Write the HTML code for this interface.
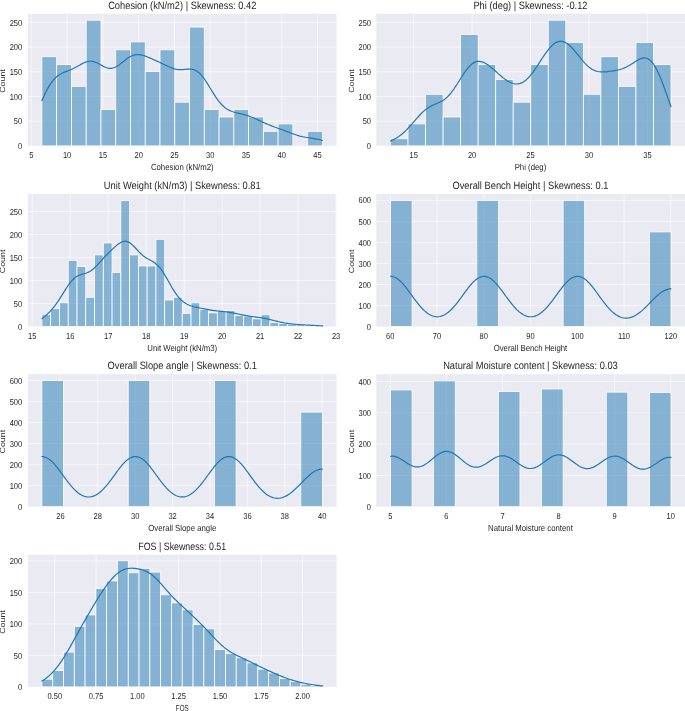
<!DOCTYPE html>
<html><head><meta charset="utf-8"><title>Histograms</title>
<style>html,body{margin:0;padding:0;background:#fff;}body{width:685px;height:711px;overflow:hidden;}svg{display:block;font-family:"Liberation Sans",sans-serif;}text{text-rendering:geometricPrecision;}</style></head><body>
<svg width="685" height="711" viewBox="0 0 685 711">
<defs><filter id="soft" x="-2%" y="-2%" width="104%" height="104%" color-interpolation-filters="sRGB"><feGaussianBlur stdDeviation="0.35"/></filter></defs>
<rect width="685" height="711" fill="#fff"/>
<g filter="url(#soft)">
<g><rect x="28.00" y="13.80" width="308.50" height="132.10" fill="#eaeaf2"/><line x1="31.32" y1="13.80" x2="31.32" y2="145.90" stroke="#fff" stroke-width="0.7" stroke-opacity="0.85"/><line x1="67.10" y1="13.80" x2="67.10" y2="145.90" stroke="#fff" stroke-width="0.7" stroke-opacity="0.85"/><line x1="102.88" y1="13.80" x2="102.88" y2="145.90" stroke="#fff" stroke-width="0.7" stroke-opacity="0.85"/><line x1="138.66" y1="13.80" x2="138.66" y2="145.90" stroke="#fff" stroke-width="0.7" stroke-opacity="0.85"/><line x1="174.44" y1="13.80" x2="174.44" y2="145.90" stroke="#fff" stroke-width="0.7" stroke-opacity="0.85"/><line x1="210.21" y1="13.80" x2="210.21" y2="145.90" stroke="#fff" stroke-width="0.7" stroke-opacity="0.85"/><line x1="245.99" y1="13.80" x2="245.99" y2="145.90" stroke="#fff" stroke-width="0.7" stroke-opacity="0.85"/><line x1="281.77" y1="13.80" x2="281.77" y2="145.90" stroke="#fff" stroke-width="0.7" stroke-opacity="0.85"/><line x1="317.55" y1="13.80" x2="317.55" y2="145.90" stroke="#fff" stroke-width="0.7" stroke-opacity="0.85"/><line x1="28.00" y1="121.20" x2="336.50" y2="121.20" stroke="#fff" stroke-width="0.7" stroke-opacity="0.85"/><line x1="28.00" y1="96.50" x2="336.50" y2="96.50" stroke="#fff" stroke-width="0.7" stroke-opacity="0.85"/><line x1="28.00" y1="71.80" x2="336.50" y2="71.80" stroke="#fff" stroke-width="0.7" stroke-opacity="0.85"/><line x1="28.00" y1="47.10" x2="336.50" y2="47.10" stroke="#fff" stroke-width="0.7" stroke-opacity="0.85"/><line x1="28.00" y1="22.40" x2="336.50" y2="22.40" stroke="#fff" stroke-width="0.7" stroke-opacity="0.85"/><rect x="41.90" y="56.73" width="14.76" height="89.17" fill="#1f77b4" fill-opacity="0.5" stroke="#fff" stroke-width="0.8"/><rect x="56.66" y="64.64" width="14.76" height="81.26" fill="#1f77b4" fill-opacity="0.5" stroke="#fff" stroke-width="0.8"/><rect x="71.43" y="86.37" width="14.76" height="59.53" fill="#1f77b4" fill-opacity="0.5" stroke="#fff" stroke-width="0.8"/><rect x="86.19" y="20.18" width="14.76" height="125.72" fill="#1f77b4" fill-opacity="0.5" stroke="#fff" stroke-width="0.8"/><rect x="100.95" y="109.59" width="14.76" height="36.31" fill="#1f77b4" fill-opacity="0.5" stroke="#fff" stroke-width="0.8"/><rect x="115.72" y="49.82" width="14.76" height="96.08" fill="#1f77b4" fill-opacity="0.5" stroke="#fff" stroke-width="0.8"/><rect x="130.48" y="41.91" width="14.76" height="103.99" fill="#1f77b4" fill-opacity="0.5" stroke="#fff" stroke-width="0.8"/><rect x="145.24" y="71.55" width="14.76" height="74.35" fill="#1f77b4" fill-opacity="0.5" stroke="#fff" stroke-width="0.8"/><rect x="160.01" y="49.82" width="14.76" height="96.08" fill="#1f77b4" fill-opacity="0.5" stroke="#fff" stroke-width="0.8"/><rect x="174.77" y="102.18" width="14.76" height="43.72" fill="#1f77b4" fill-opacity="0.5" stroke="#fff" stroke-width="0.8"/><rect x="189.53" y="27.09" width="14.76" height="118.81" fill="#1f77b4" fill-opacity="0.5" stroke="#fff" stroke-width="0.8"/><rect x="204.29" y="109.59" width="14.76" height="36.31" fill="#1f77b4" fill-opacity="0.5" stroke="#fff" stroke-width="0.8"/><rect x="219.06" y="117.00" width="14.76" height="28.90" fill="#1f77b4" fill-opacity="0.5" stroke="#fff" stroke-width="0.8"/><rect x="233.82" y="109.59" width="14.76" height="36.31" fill="#1f77b4" fill-opacity="0.5" stroke="#fff" stroke-width="0.8"/><rect x="248.58" y="117.00" width="14.76" height="28.90" fill="#1f77b4" fill-opacity="0.5" stroke="#fff" stroke-width="0.8"/><rect x="263.35" y="131.33" width="14.76" height="14.57" fill="#1f77b4" fill-opacity="0.5" stroke="#fff" stroke-width="0.8"/><rect x="278.11" y="123.92" width="14.76" height="21.98" fill="#1f77b4" fill-opacity="0.5" stroke="#fff" stroke-width="0.8"/><rect x="307.64" y="131.33" width="14.76" height="14.57" fill="#1f77b4" fill-opacity="0.5" stroke="#fff" stroke-width="0.8"/><path d="M41.90,100.59 L43.31,97.45 L44.72,94.43 L46.13,91.56 L47.54,88.88 L48.95,86.39 L50.36,84.12 L51.77,82.07 L53.18,80.25 L54.59,78.66 L56.00,77.27 L57.41,76.07 L58.81,75.05 L60.22,74.17 L61.63,73.42 L63.04,72.76 L64.45,72.17 L65.86,71.62 L67.27,71.08 L68.68,70.54 L70.09,69.97 L71.50,69.37 L72.91,68.72 L74.32,68.03 L75.73,67.29 L77.14,66.51 L78.55,65.71 L79.96,64.91 L81.37,64.13 L82.78,63.40 L84.19,62.73 L85.60,62.16 L87.01,61.70 L88.42,61.39 L89.82,61.23 L91.23,61.24 L92.64,61.41 L94.05,61.74 L95.46,62.22 L96.87,62.82 L98.28,63.52 L99.69,64.29 L101.10,65.08 L102.51,65.86 L103.92,66.60 L105.33,67.24 L106.74,67.77 L108.15,68.14 L109.56,68.34 L110.97,68.35 L112.38,68.17 L113.79,67.79 L115.20,67.23 L116.61,66.50 L118.02,65.63 L119.43,64.64 L120.83,63.56 L122.24,62.43 L123.65,61.29 L125.06,60.16 L126.47,59.08 L127.88,58.08 L129.29,57.18 L130.70,56.40 L132.11,55.75 L133.52,55.24 L134.93,54.88 L136.34,54.67 L137.75,54.60 L139.16,54.65 L140.57,54.83 L141.98,55.11 L143.39,55.49 L144.80,55.93 L146.21,56.44 L147.62,56.99 L149.03,57.58 L150.44,58.19 L151.84,58.81 L153.25,59.44 L154.66,60.08 L156.07,60.73 L157.48,61.38 L158.89,62.03 L160.30,62.70 L161.71,63.37 L163.12,64.04 L164.53,64.72 L165.94,65.40 L167.35,66.06 L168.76,66.70 L170.17,67.31 L171.58,67.87 L172.99,68.37 L174.40,68.81 L175.81,69.15 L177.22,69.41 L178.63,69.58 L180.04,69.66 L181.45,69.66 L182.85,69.59 L184.26,69.47 L185.67,69.32 L187.08,69.18 L188.49,69.09 L189.90,69.06 L191.31,69.15 L192.72,69.37 L194.13,69.77 L195.54,70.36 L196.95,71.16 L198.36,72.19 L199.77,73.44 L201.18,74.91 L202.59,76.60 L204.00,78.47 L205.41,80.50 L206.82,82.66 L208.23,84.91 L209.64,87.22 L211.05,89.55 L212.46,91.87 L213.86,94.13 L215.27,96.31 L216.68,98.38 L218.09,100.32 L219.50,102.12 L220.91,103.76 L222.32,105.24 L223.73,106.56 L225.14,107.72 L226.55,108.73 L227.96,109.61 L229.37,110.35 L230.78,110.99 L232.19,111.54 L233.60,112.00 L235.01,112.41 L236.42,112.78 L237.83,113.11 L239.24,113.44 L240.65,113.76 L242.06,114.10 L243.47,114.45 L244.87,114.83 L246.28,115.24 L247.69,115.69 L249.10,116.17 L250.51,116.69 L251.92,117.24 L253.33,117.82 L254.74,118.43 L256.15,119.07 L257.56,119.71 L258.97,120.37 L260.38,121.03 L261.79,121.69 L263.20,122.34 L264.61,122.98 L266.02,123.60 L267.43,124.21 L268.84,124.80 L270.25,125.36 L271.66,125.92 L273.07,126.45 L274.48,126.97 L275.88,127.49 L277.29,128.00 L278.70,128.51 L280.11,129.02 L281.52,129.53 L282.93,130.06 L284.34,130.58 L285.75,131.12 L287.16,131.66 L288.57,132.21 L289.98,132.75 L291.39,133.28 L292.80,133.80 L294.21,134.31 L295.62,134.79 L297.03,135.24 L298.44,135.66 L299.85,136.05 L301.26,136.40 L302.67,136.72 L304.08,137.01 L305.49,137.27 L306.89,137.51 L308.30,137.73 L309.71,137.95 L311.12,138.16 L312.53,138.37 L313.94,138.59 L315.35,138.83 L316.76,139.08 L318.17,139.36 L319.58,139.66 L320.99,139.98 L322.40,140.32" fill="none" stroke="#1f77b4" stroke-width="1.2" stroke-linejoin="round" stroke-linecap="round"/><text transform="translate(31.32,158.30) scale(0.875,1)" font-size="8.6" text-anchor="middle" fill="#262626">5</text><text transform="translate(67.10,158.30) scale(0.875,1)" font-size="8.6" text-anchor="middle" fill="#262626">10</text><text transform="translate(102.88,158.30) scale(0.875,1)" font-size="8.6" text-anchor="middle" fill="#262626">15</text><text transform="translate(138.66,158.30) scale(0.875,1)" font-size="8.6" text-anchor="middle" fill="#262626">20</text><text transform="translate(174.44,158.30) scale(0.875,1)" font-size="8.6" text-anchor="middle" fill="#262626">25</text><text transform="translate(210.21,158.30) scale(0.875,1)" font-size="8.6" text-anchor="middle" fill="#262626">30</text><text transform="translate(245.99,158.30) scale(0.875,1)" font-size="8.6" text-anchor="middle" fill="#262626">35</text><text transform="translate(281.77,158.30) scale(0.875,1)" font-size="8.6" text-anchor="middle" fill="#262626">40</text><text transform="translate(317.55,158.30) scale(0.875,1)" font-size="8.6" text-anchor="middle" fill="#262626">45</text><text transform="translate(22.20,149.00) scale(0.875,1)" font-size="8.6" text-anchor="end" fill="#262626">0</text><text transform="translate(22.20,124.30) scale(0.875,1)" font-size="8.6" text-anchor="end" fill="#262626">50</text><text transform="translate(22.20,99.60) scale(0.875,1)" font-size="8.6" text-anchor="end" fill="#262626">100</text><text transform="translate(22.20,74.90) scale(0.875,1)" font-size="8.6" text-anchor="end" fill="#262626">150</text><text transform="translate(22.20,50.20) scale(0.875,1)" font-size="8.6" text-anchor="end" fill="#262626">200</text><text transform="translate(22.20,25.50) scale(0.875,1)" font-size="8.6" text-anchor="end" fill="#262626">250</text><text transform="translate(182.25,169.90) scale(0.885,1)" font-size="8.8" text-anchor="middle" fill="#262626">Cohesion (kN/m2)</text><text transform="translate(182.25,8.60) scale(0.878,1)" font-size="10.6" text-anchor="middle" fill="#262626">Cohesion (kN/m2) | Skewness: 0.42</text><text transform="translate(4.90,81.05) rotate(-90) scale(1.18,1)" font-size="7.5" text-anchor="middle" fill="#262626">Count</text></g>
<g><rect x="376.20" y="13.80" width="308.80" height="132.10" fill="#eaeaf2"/><line x1="413.68" y1="13.80" x2="413.68" y2="145.90" stroke="#fff" stroke-width="0.7" stroke-opacity="0.85"/><line x1="472.11" y1="13.80" x2="472.11" y2="145.90" stroke="#fff" stroke-width="0.7" stroke-opacity="0.85"/><line x1="530.55" y1="13.80" x2="530.55" y2="145.90" stroke="#fff" stroke-width="0.7" stroke-opacity="0.85"/><line x1="588.99" y1="13.80" x2="588.99" y2="145.90" stroke="#fff" stroke-width="0.7" stroke-opacity="0.85"/><line x1="647.42" y1="13.80" x2="647.42" y2="145.90" stroke="#fff" stroke-width="0.7" stroke-opacity="0.85"/><line x1="376.20" y1="121.20" x2="685.00" y2="121.20" stroke="#fff" stroke-width="0.7" stroke-opacity="0.85"/><line x1="376.20" y1="96.50" x2="685.00" y2="96.50" stroke="#fff" stroke-width="0.7" stroke-opacity="0.85"/><line x1="376.20" y1="71.80" x2="685.00" y2="71.80" stroke="#fff" stroke-width="0.7" stroke-opacity="0.85"/><line x1="376.20" y1="47.10" x2="685.00" y2="47.10" stroke="#fff" stroke-width="0.7" stroke-opacity="0.85"/><line x1="376.20" y1="22.40" x2="685.00" y2="22.40" stroke="#fff" stroke-width="0.7" stroke-opacity="0.85"/><rect x="390.50" y="138.74" width="17.53" height="7.16" fill="#1f77b4" fill-opacity="0.5" stroke="#fff" stroke-width="0.8"/><rect x="408.03" y="123.92" width="17.53" height="21.98" fill="#1f77b4" fill-opacity="0.5" stroke="#fff" stroke-width="0.8"/><rect x="425.56" y="94.28" width="17.53" height="51.62" fill="#1f77b4" fill-opacity="0.5" stroke="#fff" stroke-width="0.8"/><rect x="443.09" y="117.00" width="17.53" height="28.90" fill="#1f77b4" fill-opacity="0.5" stroke="#fff" stroke-width="0.8"/><rect x="460.62" y="34.50" width="17.53" height="111.40" fill="#1f77b4" fill-opacity="0.5" stroke="#fff" stroke-width="0.8"/><rect x="478.16" y="64.64" width="17.53" height="81.26" fill="#1f77b4" fill-opacity="0.5" stroke="#fff" stroke-width="0.8"/><rect x="495.69" y="79.46" width="17.53" height="66.44" fill="#1f77b4" fill-opacity="0.5" stroke="#fff" stroke-width="0.8"/><rect x="513.22" y="102.18" width="17.53" height="43.72" fill="#1f77b4" fill-opacity="0.5" stroke="#fff" stroke-width="0.8"/><rect x="530.75" y="64.64" width="17.53" height="81.26" fill="#1f77b4" fill-opacity="0.5" stroke="#fff" stroke-width="0.8"/><rect x="548.28" y="20.18" width="17.53" height="125.72" fill="#1f77b4" fill-opacity="0.5" stroke="#fff" stroke-width="0.8"/><rect x="565.81" y="42.41" width="17.53" height="103.49" fill="#1f77b4" fill-opacity="0.5" stroke="#fff" stroke-width="0.8"/><rect x="583.34" y="94.28" width="17.53" height="51.62" fill="#1f77b4" fill-opacity="0.5" stroke="#fff" stroke-width="0.8"/><rect x="600.88" y="56.73" width="17.53" height="89.17" fill="#1f77b4" fill-opacity="0.5" stroke="#fff" stroke-width="0.8"/><rect x="618.41" y="86.37" width="17.53" height="59.53" fill="#1f77b4" fill-opacity="0.5" stroke="#fff" stroke-width="0.8"/><rect x="635.94" y="42.41" width="17.53" height="103.49" fill="#1f77b4" fill-opacity="0.5" stroke="#fff" stroke-width="0.8"/><rect x="653.47" y="64.64" width="17.53" height="81.26" fill="#1f77b4" fill-opacity="0.5" stroke="#fff" stroke-width="0.8"/><path d="M390.50,140.98 L391.91,140.38 L393.32,139.72 L394.73,138.99 L396.14,138.20 L397.55,137.33 L398.96,136.38 L400.37,135.35 L401.78,134.23 L403.19,133.03 L404.60,131.75 L406.01,130.39 L407.41,128.96 L408.82,127.46 L410.23,125.91 L411.64,124.31 L413.05,122.69 L414.46,121.05 L415.87,119.42 L417.28,117.80 L418.69,116.23 L420.10,114.72 L421.51,113.27 L422.92,111.91 L424.33,110.65 L425.74,109.50 L427.15,108.45 L428.56,107.50 L429.97,106.66 L431.38,105.90 L432.79,105.22 L434.20,104.59 L435.61,104.00 L437.02,103.41 L438.42,102.81 L439.83,102.16 L441.24,101.45 L442.65,100.63 L444.06,99.70 L445.47,98.63 L446.88,97.42 L448.29,96.04 L449.70,94.51 L451.11,92.81 L452.52,90.97 L453.93,88.99 L455.34,86.90 L456.75,84.72 L458.16,82.48 L459.57,80.21 L460.98,77.95 L462.39,75.72 L463.80,73.57 L465.21,71.52 L466.62,69.61 L468.03,67.86 L469.43,66.29 L470.84,64.93 L472.25,63.78 L473.66,62.85 L475.07,62.16 L476.48,61.68 L477.89,61.43 L479.30,61.40 L480.71,61.56 L482.12,61.91 L483.53,62.43 L484.94,63.10 L486.35,63.91 L487.76,64.83 L489.17,65.85 L490.58,66.95 L491.99,68.11 L493.40,69.32 L494.81,70.56 L496.22,71.82 L497.63,73.08 L499.04,74.33 L500.44,75.56 L501.85,76.75 L503.26,77.89 L504.67,78.97 L506.08,79.98 L507.49,80.91 L508.90,81.73 L510.31,82.45 L511.72,83.04 L513.13,83.50 L514.54,83.82 L515.95,83.98 L517.36,83.97 L518.77,83.79 L520.18,83.43 L521.59,82.90 L523.00,82.17 L524.41,81.27 L525.82,80.18 L527.23,78.92 L528.64,77.50 L530.05,75.92 L531.45,74.20 L532.86,72.35 L534.27,70.39 L535.68,68.34 L537.09,66.22 L538.50,64.06 L539.91,61.87 L541.32,59.68 L542.73,57.51 L544.14,55.39 L545.55,53.35 L546.96,51.39 L548.37,49.56 L549.78,47.87 L551.19,46.33 L552.60,44.98 L554.01,43.81 L555.42,42.86 L556.83,42.12 L558.24,41.60 L559.65,41.31 L561.06,41.25 L562.46,41.43 L563.87,41.82 L565.28,42.44 L566.69,43.25 L568.10,44.26 L569.51,45.44 L570.92,46.78 L572.33,48.25 L573.74,49.83 L575.15,51.49 L576.56,53.22 L577.97,54.98 L579.38,56.74 L580.79,58.49 L582.20,60.19 L583.61,61.82 L585.02,63.37 L586.43,64.81 L587.84,66.13 L589.25,67.32 L590.66,68.37 L592.07,69.27 L593.47,70.03 L594.88,70.65 L596.29,71.14 L597.70,71.50 L599.11,71.74 L600.52,71.89 L601.93,71.95 L603.34,71.95 L604.75,71.88 L606.16,71.78 L607.57,71.63 L608.98,71.47 L610.39,71.28 L611.80,71.08 L613.21,70.87 L614.62,70.63 L616.03,70.37 L617.44,70.08 L618.85,69.75 L620.26,69.38 L621.67,68.95 L623.08,68.45 L624.48,67.89 L625.89,67.25 L627.30,66.54 L628.71,65.77 L630.12,64.93 L631.53,64.04 L632.94,63.13 L634.35,62.20 L635.76,61.29 L637.17,60.43 L638.58,59.64 L639.99,58.95 L641.40,58.42 L642.81,58.05 L644.22,57.91 L645.63,58.00 L647.04,58.37 L648.45,59.04 L649.86,60.03 L651.27,61.34 L652.68,63.00 L654.09,64.99 L655.49,67.32 L656.90,69.96 L658.31,72.90 L659.72,76.11 L661.13,79.55 L662.54,83.19 L663.95,86.99 L665.36,90.89 L666.77,94.86 L668.18,98.85 L669.59,102.80 L671.00,106.69" fill="none" stroke="#1f77b4" stroke-width="1.2" stroke-linejoin="round" stroke-linecap="round"/><text transform="translate(413.68,158.30) scale(0.875,1)" font-size="8.6" text-anchor="middle" fill="#262626">15</text><text transform="translate(472.11,158.30) scale(0.875,1)" font-size="8.6" text-anchor="middle" fill="#262626">20</text><text transform="translate(530.55,158.30) scale(0.875,1)" font-size="8.6" text-anchor="middle" fill="#262626">25</text><text transform="translate(588.99,158.30) scale(0.875,1)" font-size="8.6" text-anchor="middle" fill="#262626">30</text><text transform="translate(647.42,158.30) scale(0.875,1)" font-size="8.6" text-anchor="middle" fill="#262626">35</text><text transform="translate(371.00,149.00) scale(0.875,1)" font-size="8.6" text-anchor="end" fill="#262626">0</text><text transform="translate(371.00,124.30) scale(0.875,1)" font-size="8.6" text-anchor="end" fill="#262626">50</text><text transform="translate(371.00,99.60) scale(0.875,1)" font-size="8.6" text-anchor="end" fill="#262626">100</text><text transform="translate(371.00,74.90) scale(0.875,1)" font-size="8.6" text-anchor="end" fill="#262626">150</text><text transform="translate(371.00,50.20) scale(0.875,1)" font-size="8.6" text-anchor="end" fill="#262626">200</text><text transform="translate(371.00,25.50) scale(0.875,1)" font-size="8.6" text-anchor="end" fill="#262626">250</text><text transform="translate(530.45,169.90) scale(0.885,1)" font-size="8.8" text-anchor="middle" fill="#262626">Phi (deg)</text><text transform="translate(530.45,8.60) scale(0.878,1)" font-size="10.6" text-anchor="middle" fill="#262626">Phi (deg) | Skewness: -0.12</text><text transform="translate(354.30,81.05) rotate(-90) scale(1.18,1)" font-size="7.5" text-anchor="middle" fill="#262626">Count</text></g>
<g><rect x="28.00" y="194.00" width="308.50" height="132.50" fill="#eaeaf2"/><line x1="32.20" y1="194.00" x2="32.20" y2="326.50" stroke="#fff" stroke-width="0.7" stroke-opacity="0.85"/><line x1="70.19" y1="194.00" x2="70.19" y2="326.50" stroke="#fff" stroke-width="0.7" stroke-opacity="0.85"/><line x1="108.17" y1="194.00" x2="108.17" y2="326.50" stroke="#fff" stroke-width="0.7" stroke-opacity="0.85"/><line x1="146.16" y1="194.00" x2="146.16" y2="326.50" stroke="#fff" stroke-width="0.7" stroke-opacity="0.85"/><line x1="184.14" y1="194.00" x2="184.14" y2="326.50" stroke="#fff" stroke-width="0.7" stroke-opacity="0.85"/><line x1="222.12" y1="194.00" x2="222.12" y2="326.50" stroke="#fff" stroke-width="0.7" stroke-opacity="0.85"/><line x1="260.11" y1="194.00" x2="260.11" y2="326.50" stroke="#fff" stroke-width="0.7" stroke-opacity="0.85"/><line x1="298.09" y1="194.00" x2="298.09" y2="326.50" stroke="#fff" stroke-width="0.7" stroke-opacity="0.85"/><line x1="336.07" y1="194.00" x2="336.07" y2="326.50" stroke="#fff" stroke-width="0.7" stroke-opacity="0.85"/><line x1="28.00" y1="303.50" x2="336.50" y2="303.50" stroke="#fff" stroke-width="0.7" stroke-opacity="0.85"/><line x1="28.00" y1="280.50" x2="336.50" y2="280.50" stroke="#fff" stroke-width="0.7" stroke-opacity="0.85"/><line x1="28.00" y1="257.50" x2="336.50" y2="257.50" stroke="#fff" stroke-width="0.7" stroke-opacity="0.85"/><line x1="28.00" y1="234.50" x2="336.50" y2="234.50" stroke="#fff" stroke-width="0.7" stroke-opacity="0.85"/><line x1="28.00" y1="211.50" x2="336.50" y2="211.50" stroke="#fff" stroke-width="0.7" stroke-opacity="0.85"/><rect x="41.90" y="314.72" width="8.77" height="11.78" fill="#1f77b4" fill-opacity="0.5" stroke="#fff" stroke-width="0.8"/><rect x="50.67" y="308.74" width="8.77" height="17.76" fill="#1f77b4" fill-opacity="0.5" stroke="#fff" stroke-width="0.8"/><rect x="59.44" y="302.76" width="8.77" height="23.74" fill="#1f77b4" fill-opacity="0.5" stroke="#fff" stroke-width="0.8"/><rect x="68.22" y="260.44" width="8.77" height="66.06" fill="#1f77b4" fill-opacity="0.5" stroke="#fff" stroke-width="0.8"/><rect x="76.99" y="266.42" width="8.77" height="60.08" fill="#1f77b4" fill-opacity="0.5" stroke="#fff" stroke-width="0.8"/><rect x="85.76" y="297.24" width="8.77" height="29.26" fill="#1f77b4" fill-opacity="0.5" stroke="#fff" stroke-width="0.8"/><rect x="94.53" y="254.92" width="8.77" height="71.58" fill="#1f77b4" fill-opacity="0.5" stroke="#fff" stroke-width="0.8"/><rect x="103.30" y="242.96" width="8.77" height="83.54" fill="#1f77b4" fill-opacity="0.5" stroke="#fff" stroke-width="0.8"/><rect x="112.08" y="272.40" width="8.77" height="54.10" fill="#1f77b4" fill-opacity="0.5" stroke="#fff" stroke-width="0.8"/><rect x="120.85" y="200.64" width="8.77" height="125.86" fill="#1f77b4" fill-opacity="0.5" stroke="#fff" stroke-width="0.8"/><rect x="129.62" y="254.92" width="8.77" height="71.58" fill="#1f77b4" fill-opacity="0.5" stroke="#fff" stroke-width="0.8"/><rect x="138.39" y="265.96" width="8.77" height="60.54" fill="#1f77b4" fill-opacity="0.5" stroke="#fff" stroke-width="0.8"/><rect x="147.16" y="265.96" width="8.77" height="60.54" fill="#1f77b4" fill-opacity="0.5" stroke="#fff" stroke-width="0.8"/><rect x="155.93" y="239.28" width="8.77" height="87.22" fill="#1f77b4" fill-opacity="0.5" stroke="#fff" stroke-width="0.8"/><rect x="164.71" y="300.00" width="8.77" height="26.50" fill="#1f77b4" fill-opacity="0.5" stroke="#fff" stroke-width="0.8"/><rect x="173.48" y="297.24" width="8.77" height="29.26" fill="#1f77b4" fill-opacity="0.5" stroke="#fff" stroke-width="0.8"/><rect x="182.25" y="313.34" width="8.77" height="13.16" fill="#1f77b4" fill-opacity="0.5" stroke="#fff" stroke-width="0.8"/><rect x="191.02" y="302.76" width="8.77" height="23.74" fill="#1f77b4" fill-opacity="0.5" stroke="#fff" stroke-width="0.8"/><rect x="199.79" y="309.66" width="8.77" height="16.84" fill="#1f77b4" fill-opacity="0.5" stroke="#fff" stroke-width="0.8"/><rect x="208.57" y="312.88" width="8.77" height="13.62" fill="#1f77b4" fill-opacity="0.5" stroke="#fff" stroke-width="0.8"/><rect x="217.34" y="310.58" width="8.77" height="15.92" fill="#1f77b4" fill-opacity="0.5" stroke="#fff" stroke-width="0.8"/><rect x="226.11" y="310.58" width="8.77" height="15.92" fill="#1f77b4" fill-opacity="0.5" stroke="#fff" stroke-width="0.8"/><rect x="234.88" y="315.64" width="8.77" height="10.86" fill="#1f77b4" fill-opacity="0.5" stroke="#fff" stroke-width="0.8"/><rect x="243.65" y="316.10" width="8.77" height="10.40" fill="#1f77b4" fill-opacity="0.5" stroke="#fff" stroke-width="0.8"/><rect x="252.43" y="318.86" width="8.77" height="7.64" fill="#1f77b4" fill-opacity="0.5" stroke="#fff" stroke-width="0.8"/><rect x="261.20" y="314.72" width="8.77" height="11.78" fill="#1f77b4" fill-opacity="0.5" stroke="#fff" stroke-width="0.8"/><rect x="269.97" y="322.54" width="8.77" height="3.96" fill="#1f77b4" fill-opacity="0.5" stroke="#fff" stroke-width="0.8"/><rect x="278.74" y="323.46" width="8.77" height="3.04" fill="#1f77b4" fill-opacity="0.5" stroke="#fff" stroke-width="0.8"/><rect x="287.51" y="324.38" width="8.77" height="2.12" fill="#1f77b4" fill-opacity="0.5" stroke="#fff" stroke-width="0.8"/><rect x="296.28" y="324.84" width="8.77" height="1.66" fill="#1f77b4" fill-opacity="0.5" stroke="#fff" stroke-width="0.8"/><rect x="305.06" y="325.30" width="8.77" height="1.20" fill="#1f77b4" fill-opacity="0.5" stroke="#fff" stroke-width="0.8"/><rect x="313.83" y="325.30" width="8.77" height="1.20" fill="#1f77b4" fill-opacity="0.5" stroke="#fff" stroke-width="0.8"/><path d="M41.90,318.72 L43.31,317.64 L44.72,316.49 L46.13,315.25 L47.54,313.94 L48.95,312.54 L50.36,311.06 L51.77,309.48 L53.18,307.80 L54.59,306.02 L56.01,304.14 L57.42,302.15 L58.83,300.07 L60.24,297.91 L61.65,295.69 L63.06,293.44 L64.47,291.17 L65.88,288.94 L67.29,286.78 L68.70,284.72 L70.11,282.81 L71.52,281.07 L72.93,279.53 L74.34,278.21 L75.75,277.10 L77.16,276.19 L78.57,275.47 L79.98,274.90 L81.40,274.45 L82.81,274.05 L84.22,273.67 L85.63,273.26 L87.04,272.76 L88.45,272.15 L89.86,271.41 L91.27,270.50 L92.68,269.44 L94.09,268.23 L95.50,266.89 L96.91,265.45 L98.32,263.93 L99.73,262.37 L101.14,260.79 L102.55,259.23 L103.96,257.69 L105.37,256.19 L106.79,254.72 L108.20,253.29 L109.61,251.90 L111.02,250.53 L112.43,249.19 L113.84,247.87 L115.25,246.60 L116.66,245.39 L118.07,244.27 L119.48,243.27 L120.89,242.44 L122.30,241.80 L123.71,241.40 L125.12,241.26 L126.53,241.41 L127.94,241.84 L129.35,242.55 L130.76,243.51 L132.18,244.69 L133.59,246.03 L135.00,247.50 L136.41,249.03 L137.82,250.57 L139.23,252.06 L140.64,253.48 L142.05,254.78 L143.46,255.96 L144.87,257.01 L146.28,257.94 L147.69,258.77 L149.10,259.53 L150.51,260.28 L151.92,261.05 L153.33,261.88 L154.74,262.83 L156.15,263.94 L157.57,265.23 L158.98,266.72 L160.39,268.42 L161.80,270.33 L163.21,272.43 L164.62,274.69 L166.03,277.08 L167.44,279.54 L168.85,282.05 L170.26,284.55 L171.67,286.99 L173.08,289.35 L174.49,291.59 L175.90,293.68 L177.31,295.61 L178.72,297.36 L180.13,298.93 L181.54,300.33 L182.96,301.55 L184.37,302.61 L185.78,303.52 L187.19,304.30 L188.60,304.96 L190.01,305.52 L191.42,306.00 L192.83,306.41 L194.24,306.78 L195.65,307.11 L197.06,307.42 L198.47,307.71 L199.88,308.00 L201.29,308.28 L202.70,308.57 L204.11,308.85 L205.52,309.13 L206.93,309.41 L208.35,309.67 L209.76,309.92 L211.17,310.15 L212.58,310.36 L213.99,310.55 L215.40,310.72 L216.81,310.87 L218.22,311.02 L219.63,311.15 L221.04,311.29 L222.45,311.42 L223.86,311.57 L225.27,311.73 L226.68,311.90 L228.09,312.10 L229.50,312.31 L230.91,312.55 L232.32,312.81 L233.74,313.08 L235.15,313.37 L236.56,313.67 L237.97,313.97 L239.38,314.28 L240.79,314.58 L242.20,314.88 L243.61,315.16 L245.02,315.44 L246.43,315.69 L247.84,315.93 L249.25,316.16 L250.66,316.37 L252.07,316.56 L253.48,316.75 L254.89,316.92 L256.30,317.10 L257.71,317.28 L259.13,317.47 L260.54,317.67 L261.95,317.89 L263.36,318.12 L264.77,318.38 L266.18,318.66 L267.59,318.97 L269.00,319.30 L270.41,319.64 L271.82,320.00 L273.23,320.36 L274.64,320.73 L276.05,321.09 L277.46,321.45 L278.87,321.79 L280.28,322.12 L281.69,322.43 L283.10,322.71 L284.52,322.97 L285.93,323.22 L287.34,323.43 L288.75,323.63 L290.16,323.81 L291.57,323.97 L292.98,324.12 L294.39,324.25 L295.80,324.37 L297.21,324.48 L298.62,324.58 L300.03,324.68 L301.44,324.77 L302.85,324.85 L304.26,324.93 L305.67,325.00 L307.08,325.08 L308.49,325.15 L309.91,325.22 L311.32,325.29 L312.73,325.36 L314.14,325.43 L315.55,325.51 L316.96,325.58 L318.37,325.65 L319.78,325.73 L321.19,325.80 L322.60,325.87" fill="none" stroke="#1f77b4" stroke-width="1.2" stroke-linejoin="round" stroke-linecap="round"/><text transform="translate(32.20,338.90) scale(0.875,1)" font-size="8.6" text-anchor="middle" fill="#262626">15</text><text transform="translate(70.19,338.90) scale(0.875,1)" font-size="8.6" text-anchor="middle" fill="#262626">16</text><text transform="translate(108.17,338.90) scale(0.875,1)" font-size="8.6" text-anchor="middle" fill="#262626">17</text><text transform="translate(146.16,338.90) scale(0.875,1)" font-size="8.6" text-anchor="middle" fill="#262626">18</text><text transform="translate(184.14,338.90) scale(0.875,1)" font-size="8.6" text-anchor="middle" fill="#262626">19</text><text transform="translate(222.12,338.90) scale(0.875,1)" font-size="8.6" text-anchor="middle" fill="#262626">20</text><text transform="translate(260.11,338.90) scale(0.875,1)" font-size="8.6" text-anchor="middle" fill="#262626">21</text><text transform="translate(298.09,338.90) scale(0.875,1)" font-size="8.6" text-anchor="middle" fill="#262626">22</text><text transform="translate(336.07,338.90) scale(0.875,1)" font-size="8.6" text-anchor="middle" fill="#262626">23</text><text transform="translate(22.20,329.60) scale(0.875,1)" font-size="8.6" text-anchor="end" fill="#262626">0</text><text transform="translate(22.20,306.60) scale(0.875,1)" font-size="8.6" text-anchor="end" fill="#262626">50</text><text transform="translate(22.20,283.60) scale(0.875,1)" font-size="8.6" text-anchor="end" fill="#262626">100</text><text transform="translate(22.20,260.60) scale(0.875,1)" font-size="8.6" text-anchor="end" fill="#262626">150</text><text transform="translate(22.20,237.60) scale(0.875,1)" font-size="8.6" text-anchor="end" fill="#262626">200</text><text transform="translate(22.20,214.60) scale(0.875,1)" font-size="8.6" text-anchor="end" fill="#262626">250</text><text transform="translate(182.25,350.50) scale(0.885,1)" font-size="8.8" text-anchor="middle" fill="#262626">Unit Weight (kN/m3)</text><text transform="translate(182.25,188.80) scale(0.878,1)" font-size="10.6" text-anchor="middle" fill="#262626">Unit Weight (kN/m3) | Skewness: 0.81</text><text transform="translate(4.90,261.45) rotate(-90) scale(1.18,1)" font-size="7.5" text-anchor="middle" fill="#262626">Count</text></g>
<g><rect x="376.20" y="194.00" width="308.80" height="132.50" fill="#eaeaf2"/><line x1="390.30" y1="194.00" x2="390.30" y2="326.50" stroke="#fff" stroke-width="0.7" stroke-opacity="0.85"/><line x1="437.05" y1="194.00" x2="437.05" y2="326.50" stroke="#fff" stroke-width="0.7" stroke-opacity="0.85"/><line x1="483.80" y1="194.00" x2="483.80" y2="326.50" stroke="#fff" stroke-width="0.7" stroke-opacity="0.85"/><line x1="530.55" y1="194.00" x2="530.55" y2="326.50" stroke="#fff" stroke-width="0.7" stroke-opacity="0.85"/><line x1="577.30" y1="194.00" x2="577.30" y2="326.50" stroke="#fff" stroke-width="0.7" stroke-opacity="0.85"/><line x1="624.05" y1="194.00" x2="624.05" y2="326.50" stroke="#fff" stroke-width="0.7" stroke-opacity="0.85"/><line x1="670.80" y1="194.00" x2="670.80" y2="326.50" stroke="#fff" stroke-width="0.7" stroke-opacity="0.85"/><line x1="376.20" y1="305.48" x2="685.00" y2="305.48" stroke="#fff" stroke-width="0.7" stroke-opacity="0.85"/><line x1="376.20" y1="284.46" x2="685.00" y2="284.46" stroke="#fff" stroke-width="0.7" stroke-opacity="0.85"/><line x1="376.20" y1="263.44" x2="685.00" y2="263.44" stroke="#fff" stroke-width="0.7" stroke-opacity="0.85"/><line x1="376.20" y1="242.42" x2="685.00" y2="242.42" stroke="#fff" stroke-width="0.7" stroke-opacity="0.85"/><line x1="376.20" y1="221.40" x2="685.00" y2="221.40" stroke="#fff" stroke-width="0.7" stroke-opacity="0.85"/><line x1="376.20" y1="200.38" x2="685.00" y2="200.38" stroke="#fff" stroke-width="0.7" stroke-opacity="0.85"/><rect x="390.50" y="200.38" width="21.58" height="126.12" fill="#1f77b4" fill-opacity="0.5" stroke="#fff" stroke-width="0.8"/><rect x="476.81" y="200.38" width="21.58" height="126.12" fill="#1f77b4" fill-opacity="0.5" stroke="#fff" stroke-width="0.8"/><rect x="563.12" y="200.38" width="21.58" height="126.12" fill="#1f77b4" fill-opacity="0.5" stroke="#fff" stroke-width="0.8"/><rect x="649.42" y="231.91" width="21.58" height="94.59" fill="#1f77b4" fill-opacity="0.5" stroke="#fff" stroke-width="0.8"/><path d="M390.50,276.32 L391.91,276.42 L393.32,276.74 L394.73,277.26 L396.14,277.99 L397.55,278.90 L398.96,279.99 L400.37,281.25 L401.78,282.66 L403.19,284.20 L404.60,285.86 L406.01,287.61 L407.41,289.44 L408.82,291.33 L410.23,293.25 L411.64,295.19 L413.05,297.12 L414.46,299.04 L415.87,300.92 L417.28,302.74 L418.69,304.50 L420.10,306.18 L421.51,307.76 L422.92,309.24 L424.33,310.60 L425.74,311.84 L427.15,312.96 L428.56,313.94 L429.97,314.78 L431.38,315.47 L432.79,316.02 L434.20,316.42 L435.61,316.68 L437.02,316.78 L438.42,316.73 L439.83,316.52 L441.24,316.17 L442.65,315.67 L444.06,315.02 L445.47,314.23 L446.88,313.30 L448.29,312.23 L449.70,311.03 L451.11,309.71 L452.52,308.26 L453.93,306.72 L455.34,305.07 L456.75,303.34 L458.16,301.53 L459.57,299.67 L460.98,297.76 L462.39,295.83 L463.80,293.89 L465.21,291.96 L466.62,290.06 L468.03,288.21 L469.43,286.43 L470.84,284.74 L472.25,283.16 L473.66,281.70 L475.07,280.39 L476.48,279.24 L477.89,278.27 L479.30,277.48 L480.71,276.89 L482.12,276.50 L483.53,276.33 L484.94,276.36 L486.35,276.61 L487.76,277.06 L489.17,277.72 L490.58,278.57 L491.99,279.61 L493.40,280.81 L494.81,282.17 L496.22,283.67 L497.63,285.29 L499.04,287.02 L500.44,288.82 L501.85,290.69 L503.26,292.60 L504.67,294.54 L506.08,296.48 L507.49,298.40 L508.90,300.30 L510.31,302.14 L511.72,303.92 L513.13,305.63 L514.54,307.24 L515.95,308.76 L517.36,310.16 L518.77,311.44 L520.18,312.60 L521.59,313.63 L523.00,314.51 L524.41,315.26 L525.82,315.86 L527.23,316.31 L528.64,316.61 L530.05,316.76 L531.45,316.76 L532.86,316.61 L534.27,316.31 L535.68,315.86 L537.09,315.26 L538.50,314.51 L539.91,313.63 L541.32,312.60 L542.73,311.44 L544.14,310.16 L545.55,308.76 L546.96,307.24 L548.37,305.63 L549.78,303.92 L551.19,302.14 L552.60,300.30 L554.01,298.40 L555.42,296.48 L556.83,294.54 L558.24,292.60 L559.65,290.69 L561.06,288.82 L562.46,287.02 L563.87,285.29 L565.28,283.67 L566.69,282.17 L568.10,280.81 L569.51,279.61 L570.92,278.57 L572.33,277.72 L573.74,277.06 L575.15,276.61 L576.56,276.36 L577.97,276.33 L579.38,276.50 L580.79,276.89 L582.20,277.48 L583.61,278.27 L585.02,279.25 L586.43,280.40 L587.84,281.71 L589.25,283.17 L590.66,284.75 L592.07,286.45 L593.47,288.23 L594.88,290.09 L596.29,291.99 L597.70,293.93 L599.11,295.88 L600.52,297.83 L601.93,299.75 L603.34,301.63 L604.75,303.45 L606.16,305.21 L607.57,306.89 L608.98,308.47 L610.39,309.95 L611.80,311.33 L613.21,312.58 L614.62,313.72 L616.03,314.73 L617.44,315.61 L618.85,316.36 L620.26,316.97 L621.67,317.46 L623.08,317.81 L624.48,318.02 L625.89,318.10 L627.30,318.06 L628.71,317.88 L630.12,317.58 L631.53,317.15 L632.94,316.61 L634.35,315.95 L635.76,315.17 L637.17,314.30 L638.58,313.32 L639.99,312.25 L641.40,311.10 L642.81,309.87 L644.22,308.57 L645.63,307.23 L647.04,305.83 L648.45,304.41 L649.86,302.97 L651.27,301.52 L652.68,300.09 L654.09,298.68 L655.49,297.31 L656.90,296.00 L658.31,294.76 L659.72,293.61 L661.13,292.56 L662.54,291.61 L663.95,290.79 L665.36,290.11 L666.77,289.57 L668.18,289.18 L669.59,288.94 L671.00,288.86" fill="none" stroke="#1f77b4" stroke-width="1.2" stroke-linejoin="round" stroke-linecap="round"/><text transform="translate(390.30,338.90) scale(0.875,1)" font-size="8.6" text-anchor="middle" fill="#262626">60</text><text transform="translate(437.05,338.90) scale(0.875,1)" font-size="8.6" text-anchor="middle" fill="#262626">70</text><text transform="translate(483.80,338.90) scale(0.875,1)" font-size="8.6" text-anchor="middle" fill="#262626">80</text><text transform="translate(530.55,338.90) scale(0.875,1)" font-size="8.6" text-anchor="middle" fill="#262626">90</text><text transform="translate(577.30,338.90) scale(0.875,1)" font-size="8.6" text-anchor="middle" fill="#262626">100</text><text transform="translate(624.05,338.90) scale(0.875,1)" font-size="8.6" text-anchor="middle" fill="#262626">110</text><text transform="translate(670.80,338.90) scale(0.875,1)" font-size="8.6" text-anchor="middle" fill="#262626">120</text><text transform="translate(371.00,329.60) scale(0.875,1)" font-size="8.6" text-anchor="end" fill="#262626">0</text><text transform="translate(371.00,308.58) scale(0.875,1)" font-size="8.6" text-anchor="end" fill="#262626">100</text><text transform="translate(371.00,287.56) scale(0.875,1)" font-size="8.6" text-anchor="end" fill="#262626">200</text><text transform="translate(371.00,266.54) scale(0.875,1)" font-size="8.6" text-anchor="end" fill="#262626">300</text><text transform="translate(371.00,245.52) scale(0.875,1)" font-size="8.6" text-anchor="end" fill="#262626">400</text><text transform="translate(371.00,224.50) scale(0.875,1)" font-size="8.6" text-anchor="end" fill="#262626">500</text><text transform="translate(371.00,203.48) scale(0.875,1)" font-size="8.6" text-anchor="end" fill="#262626">600</text><text transform="translate(530.45,350.50) scale(0.885,1)" font-size="8.8" text-anchor="middle" fill="#262626">Overall Bench Height</text><text transform="translate(530.45,188.80) scale(0.878,1)" font-size="10.6" text-anchor="middle" fill="#262626">Overall Bench Height | Skewness: 0.1</text><text transform="translate(354.30,261.45) rotate(-90) scale(1.18,1)" font-size="7.5" text-anchor="middle" fill="#262626">Count</text></g>
<g><rect x="28.00" y="374.20" width="308.50" height="132.50" fill="#eaeaf2"/><line x1="60.40" y1="374.20" x2="60.40" y2="506.70" stroke="#fff" stroke-width="0.7" stroke-opacity="0.85"/><line x1="97.80" y1="374.20" x2="97.80" y2="506.70" stroke="#fff" stroke-width="0.7" stroke-opacity="0.85"/><line x1="135.20" y1="374.20" x2="135.20" y2="506.70" stroke="#fff" stroke-width="0.7" stroke-opacity="0.85"/><line x1="172.60" y1="374.20" x2="172.60" y2="506.70" stroke="#fff" stroke-width="0.7" stroke-opacity="0.85"/><line x1="210.00" y1="374.20" x2="210.00" y2="506.70" stroke="#fff" stroke-width="0.7" stroke-opacity="0.85"/><line x1="247.40" y1="374.20" x2="247.40" y2="506.70" stroke="#fff" stroke-width="0.7" stroke-opacity="0.85"/><line x1="284.80" y1="374.20" x2="284.80" y2="506.70" stroke="#fff" stroke-width="0.7" stroke-opacity="0.85"/><line x1="322.20" y1="374.20" x2="322.20" y2="506.70" stroke="#fff" stroke-width="0.7" stroke-opacity="0.85"/><line x1="28.00" y1="485.68" x2="336.50" y2="485.68" stroke="#fff" stroke-width="0.7" stroke-opacity="0.85"/><line x1="28.00" y1="464.66" x2="336.50" y2="464.66" stroke="#fff" stroke-width="0.7" stroke-opacity="0.85"/><line x1="28.00" y1="443.64" x2="336.50" y2="443.64" stroke="#fff" stroke-width="0.7" stroke-opacity="0.85"/><line x1="28.00" y1="422.62" x2="336.50" y2="422.62" stroke="#fff" stroke-width="0.7" stroke-opacity="0.85"/><line x1="28.00" y1="401.60" x2="336.50" y2="401.60" stroke="#fff" stroke-width="0.7" stroke-opacity="0.85"/><line x1="28.00" y1="380.58" x2="336.50" y2="380.58" stroke="#fff" stroke-width="0.7" stroke-opacity="0.85"/><rect x="41.90" y="380.58" width="21.58" height="126.12" fill="#1f77b4" fill-opacity="0.5" stroke="#fff" stroke-width="0.8"/><rect x="128.21" y="380.58" width="21.58" height="126.12" fill="#1f77b4" fill-opacity="0.5" stroke="#fff" stroke-width="0.8"/><rect x="214.52" y="380.58" width="21.58" height="126.12" fill="#1f77b4" fill-opacity="0.5" stroke="#fff" stroke-width="0.8"/><rect x="300.82" y="412.11" width="21.58" height="94.59" fill="#1f77b4" fill-opacity="0.5" stroke="#fff" stroke-width="0.8"/><path d="M41.90,456.52 L43.31,456.62 L44.72,456.94 L46.13,457.46 L47.54,458.19 L48.95,459.10 L50.36,460.19 L51.77,461.45 L53.18,462.86 L54.59,464.40 L56.00,466.06 L57.41,467.81 L58.81,469.64 L60.22,471.53 L61.63,473.45 L63.04,475.39 L64.45,477.32 L65.86,479.24 L67.27,481.12 L68.68,482.94 L70.09,484.70 L71.50,486.38 L72.91,487.96 L74.32,489.44 L75.73,490.80 L77.14,492.04 L78.55,493.16 L79.96,494.14 L81.37,494.98 L82.78,495.67 L84.19,496.22 L85.60,496.62 L87.01,496.88 L88.42,496.98 L89.82,496.93 L91.23,496.72 L92.64,496.37 L94.05,495.87 L95.46,495.22 L96.87,494.43 L98.28,493.50 L99.69,492.43 L101.10,491.23 L102.51,489.91 L103.92,488.46 L105.33,486.92 L106.74,485.27 L108.15,483.54 L109.56,481.73 L110.97,479.87 L112.38,477.96 L113.79,476.03 L115.20,474.09 L116.61,472.16 L118.02,470.26 L119.43,468.41 L120.83,466.63 L122.24,464.94 L123.65,463.36 L125.06,461.90 L126.47,460.59 L127.88,459.44 L129.29,458.47 L130.70,457.68 L132.11,457.09 L133.52,456.70 L134.93,456.53 L136.34,456.56 L137.75,456.81 L139.16,457.26 L140.57,457.92 L141.98,458.77 L143.39,459.81 L144.80,461.01 L146.21,462.37 L147.62,463.87 L149.03,465.49 L150.44,467.22 L151.84,469.02 L153.25,470.89 L154.66,472.80 L156.07,474.74 L157.48,476.68 L158.89,478.60 L160.30,480.50 L161.71,482.34 L163.12,484.12 L164.53,485.83 L165.94,487.44 L167.35,488.96 L168.76,490.36 L170.17,491.64 L171.58,492.80 L172.99,493.83 L174.40,494.71 L175.81,495.46 L177.22,496.06 L178.63,496.51 L180.04,496.81 L181.45,496.96 L182.85,496.96 L184.26,496.81 L185.67,496.51 L187.08,496.06 L188.49,495.46 L189.90,494.71 L191.31,493.83 L192.72,492.80 L194.13,491.64 L195.54,490.36 L196.95,488.96 L198.36,487.44 L199.77,485.83 L201.18,484.12 L202.59,482.34 L204.00,480.50 L205.41,478.60 L206.82,476.68 L208.23,474.74 L209.64,472.80 L211.05,470.89 L212.46,469.02 L213.86,467.22 L215.27,465.49 L216.68,463.87 L218.09,462.37 L219.50,461.01 L220.91,459.81 L222.32,458.77 L223.73,457.92 L225.14,457.26 L226.55,456.81 L227.96,456.56 L229.37,456.53 L230.78,456.70 L232.19,457.09 L233.60,457.68 L235.01,458.47 L236.42,459.45 L237.83,460.60 L239.24,461.91 L240.65,463.37 L242.06,464.95 L243.47,466.65 L244.87,468.43 L246.28,470.29 L247.69,472.19 L249.10,474.13 L250.51,476.08 L251.92,478.03 L253.33,479.95 L254.74,481.83 L256.15,483.65 L257.56,485.41 L258.97,487.09 L260.38,488.67 L261.79,490.15 L263.20,491.53 L264.61,492.78 L266.02,493.92 L267.43,494.93 L268.84,495.81 L270.25,496.56 L271.66,497.17 L273.07,497.66 L274.48,498.01 L275.88,498.22 L277.29,498.30 L278.70,498.26 L280.11,498.08 L281.52,497.78 L282.93,497.35 L284.34,496.81 L285.75,496.15 L287.16,495.37 L288.57,494.50 L289.98,493.52 L291.39,492.45 L292.80,491.30 L294.21,490.07 L295.62,488.77 L297.03,487.43 L298.44,486.03 L299.85,484.61 L301.26,483.17 L302.67,481.72 L304.08,480.29 L305.49,478.88 L306.89,477.51 L308.30,476.20 L309.71,474.96 L311.12,473.81 L312.53,472.76 L313.94,471.81 L315.35,470.99 L316.76,470.31 L318.17,469.77 L319.58,469.38 L320.99,469.14 L322.40,469.06" fill="none" stroke="#1f77b4" stroke-width="1.2" stroke-linejoin="round" stroke-linecap="round"/><text transform="translate(60.40,519.10) scale(0.875,1)" font-size="8.6" text-anchor="middle" fill="#262626">26</text><text transform="translate(97.80,519.10) scale(0.875,1)" font-size="8.6" text-anchor="middle" fill="#262626">28</text><text transform="translate(135.20,519.10) scale(0.875,1)" font-size="8.6" text-anchor="middle" fill="#262626">30</text><text transform="translate(172.60,519.10) scale(0.875,1)" font-size="8.6" text-anchor="middle" fill="#262626">32</text><text transform="translate(210.00,519.10) scale(0.875,1)" font-size="8.6" text-anchor="middle" fill="#262626">34</text><text transform="translate(247.40,519.10) scale(0.875,1)" font-size="8.6" text-anchor="middle" fill="#262626">36</text><text transform="translate(284.80,519.10) scale(0.875,1)" font-size="8.6" text-anchor="middle" fill="#262626">38</text><text transform="translate(322.20,519.10) scale(0.875,1)" font-size="8.6" text-anchor="middle" fill="#262626">40</text><text transform="translate(22.20,509.80) scale(0.875,1)" font-size="8.6" text-anchor="end" fill="#262626">0</text><text transform="translate(22.20,488.78) scale(0.875,1)" font-size="8.6" text-anchor="end" fill="#262626">100</text><text transform="translate(22.20,467.76) scale(0.875,1)" font-size="8.6" text-anchor="end" fill="#262626">200</text><text transform="translate(22.20,446.74) scale(0.875,1)" font-size="8.6" text-anchor="end" fill="#262626">300</text><text transform="translate(22.20,425.72) scale(0.875,1)" font-size="8.6" text-anchor="end" fill="#262626">400</text><text transform="translate(22.20,404.70) scale(0.875,1)" font-size="8.6" text-anchor="end" fill="#262626">500</text><text transform="translate(22.20,383.68) scale(0.875,1)" font-size="8.6" text-anchor="end" fill="#262626">600</text><text transform="translate(182.25,530.70) scale(0.885,1)" font-size="8.8" text-anchor="middle" fill="#262626">Overall Slope angle</text><text transform="translate(182.25,369.00) scale(0.878,1)" font-size="10.6" text-anchor="middle" fill="#262626">Overall Slope angle | Skewness: 0.1</text><text transform="translate(4.90,441.65) rotate(-90) scale(1.18,1)" font-size="7.5" text-anchor="middle" fill="#262626">Count</text></g>
<g><rect x="376.20" y="374.20" width="308.80" height="132.50" fill="#eaeaf2"/><line x1="390.30" y1="374.20" x2="390.30" y2="506.70" stroke="#fff" stroke-width="0.7" stroke-opacity="0.85"/><line x1="446.40" y1="374.20" x2="446.40" y2="506.70" stroke="#fff" stroke-width="0.7" stroke-opacity="0.85"/><line x1="502.50" y1="374.20" x2="502.50" y2="506.70" stroke="#fff" stroke-width="0.7" stroke-opacity="0.85"/><line x1="558.60" y1="374.20" x2="558.60" y2="506.70" stroke="#fff" stroke-width="0.7" stroke-opacity="0.85"/><line x1="614.70" y1="374.20" x2="614.70" y2="506.70" stroke="#fff" stroke-width="0.7" stroke-opacity="0.85"/><line x1="670.80" y1="374.20" x2="670.80" y2="506.70" stroke="#fff" stroke-width="0.7" stroke-opacity="0.85"/><line x1="376.20" y1="475.40" x2="685.00" y2="475.40" stroke="#fff" stroke-width="0.7" stroke-opacity="0.85"/><line x1="376.20" y1="444.10" x2="685.00" y2="444.10" stroke="#fff" stroke-width="0.7" stroke-opacity="0.85"/><line x1="376.20" y1="412.80" x2="685.00" y2="412.80" stroke="#fff" stroke-width="0.7" stroke-opacity="0.85"/><line x1="376.20" y1="381.50" x2="685.00" y2="381.50" stroke="#fff" stroke-width="0.7" stroke-opacity="0.85"/><rect x="390.50" y="389.95" width="21.58" height="116.75" fill="#1f77b4" fill-opacity="0.5" stroke="#fff" stroke-width="0.8"/><rect x="433.65" y="380.87" width="21.58" height="125.83" fill="#1f77b4" fill-opacity="0.5" stroke="#fff" stroke-width="0.8"/><rect x="498.38" y="391.52" width="21.58" height="115.18" fill="#1f77b4" fill-opacity="0.5" stroke="#fff" stroke-width="0.8"/><rect x="541.54" y="389.01" width="21.58" height="117.69" fill="#1f77b4" fill-opacity="0.5" stroke="#fff" stroke-width="0.8"/><rect x="606.27" y="392.14" width="21.58" height="114.56" fill="#1f77b4" fill-opacity="0.5" stroke="#fff" stroke-width="0.8"/><rect x="649.42" y="392.45" width="21.58" height="114.25" fill="#1f77b4" fill-opacity="0.5" stroke="#fff" stroke-width="0.8"/><path d="M390.50,456.24 L391.91,456.11 L393.32,456.17 L394.73,456.40 L396.14,456.80 L397.55,457.35 L398.96,458.03 L400.37,458.81 L401.78,459.67 L403.19,460.58 L404.60,461.52 L406.01,462.46 L407.41,463.37 L408.82,464.22 L410.23,465.00 L411.64,465.67 L413.05,466.21 L414.46,466.62 L415.87,466.87 L417.28,466.97 L418.69,466.89 L420.10,466.64 L421.51,466.23 L422.92,465.66 L424.33,464.95 L425.74,464.10 L427.15,463.13 L428.56,462.08 L429.97,460.95 L431.38,459.78 L432.79,458.60 L434.20,457.43 L435.61,456.30 L437.02,455.23 L438.42,454.25 L439.83,453.39 L441.24,452.66 L442.65,452.09 L444.06,451.68 L445.47,451.45 L446.88,451.40 L448.29,451.53 L449.70,451.84 L451.11,452.32 L452.52,452.96 L453.93,453.75 L455.34,454.67 L456.75,455.70 L458.16,456.80 L459.57,457.96 L460.98,459.15 L462.39,460.35 L463.80,461.51 L465.21,462.63 L466.62,463.67 L468.03,464.60 L469.43,465.42 L470.84,466.10 L472.25,466.63 L473.66,466.99 L475.07,467.19 L476.48,467.22 L477.89,467.09 L479.30,466.79 L480.71,466.35 L482.12,465.77 L483.53,465.07 L484.94,464.27 L486.35,463.40 L487.76,462.48 L489.17,461.53 L490.58,460.58 L491.99,459.66 L493.40,458.79 L494.81,457.99 L496.22,457.29 L497.63,456.71 L499.04,456.26 L500.44,455.95 L501.85,455.79 L503.26,455.79 L504.67,455.94 L506.08,456.25 L507.49,456.71 L508.90,457.31 L510.31,458.02 L511.72,458.84 L513.13,459.74 L514.54,460.71 L515.95,461.71 L517.36,462.72 L518.77,463.71 L520.18,464.67 L521.59,465.56 L523.00,466.37 L524.41,467.07 L525.82,467.64 L527.23,468.08 L528.64,468.36 L530.05,468.48 L531.45,468.45 L532.86,468.24 L534.27,467.88 L535.68,467.37 L537.09,466.73 L538.50,465.96 L539.91,465.08 L541.32,464.12 L542.73,463.10 L544.14,462.05 L545.55,460.98 L546.96,459.93 L548.37,458.93 L549.78,457.99 L551.19,457.14 L552.60,456.40 L554.01,455.79 L555.42,455.32 L556.83,455.01 L558.24,454.86 L559.65,454.88 L561.06,455.06 L562.46,455.41 L563.87,455.91 L565.28,456.55 L566.69,457.31 L568.10,458.19 L569.51,459.15 L570.92,460.17 L572.33,461.22 L573.74,462.29 L575.15,463.35 L576.56,464.36 L577.97,465.31 L579.38,466.18 L580.79,466.93 L582.20,467.56 L583.61,468.05 L585.02,468.39 L586.43,468.57 L587.84,468.58 L589.25,468.44 L590.66,468.13 L592.07,467.68 L593.47,467.09 L594.88,466.38 L596.29,465.57 L597.70,464.68 L599.11,463.72 L600.52,462.73 L601.93,461.74 L603.34,460.76 L604.75,459.82 L606.16,458.94 L607.57,458.16 L608.98,457.48 L610.39,456.93 L611.80,456.51 L613.21,456.25 L614.62,456.15 L616.03,456.20 L617.44,456.41 L618.85,456.78 L620.26,457.29 L621.67,457.94 L623.08,458.70 L624.48,459.56 L625.89,460.49 L627.30,461.48 L628.71,462.50 L630.12,463.52 L631.53,464.52 L632.94,465.48 L634.35,466.36 L635.76,467.15 L637.17,467.83 L638.58,468.39 L639.99,468.80 L641.40,469.06 L642.81,469.16 L644.22,469.11 L645.63,468.89 L647.04,468.53 L648.45,468.02 L649.86,467.38 L651.27,466.63 L652.68,465.79 L654.09,464.87 L655.49,463.91 L656.90,462.93 L658.31,461.95 L659.72,461.00 L661.13,460.11 L662.54,459.31 L663.95,458.61 L665.36,458.04 L666.77,457.62 L668.18,457.37 L669.59,457.29 L671.00,457.41" fill="none" stroke="#1f77b4" stroke-width="1.2" stroke-linejoin="round" stroke-linecap="round"/><text transform="translate(390.30,519.10) scale(0.875,1)" font-size="8.6" text-anchor="middle" fill="#262626">5</text><text transform="translate(446.40,519.10) scale(0.875,1)" font-size="8.6" text-anchor="middle" fill="#262626">6</text><text transform="translate(502.50,519.10) scale(0.875,1)" font-size="8.6" text-anchor="middle" fill="#262626">7</text><text transform="translate(558.60,519.10) scale(0.875,1)" font-size="8.6" text-anchor="middle" fill="#262626">8</text><text transform="translate(614.70,519.10) scale(0.875,1)" font-size="8.6" text-anchor="middle" fill="#262626">9</text><text transform="translate(670.80,519.10) scale(0.875,1)" font-size="8.6" text-anchor="middle" fill="#262626">10</text><text transform="translate(371.00,509.80) scale(0.875,1)" font-size="8.6" text-anchor="end" fill="#262626">0</text><text transform="translate(371.00,478.50) scale(0.875,1)" font-size="8.6" text-anchor="end" fill="#262626">100</text><text transform="translate(371.00,447.20) scale(0.875,1)" font-size="8.6" text-anchor="end" fill="#262626">200</text><text transform="translate(371.00,415.90) scale(0.875,1)" font-size="8.6" text-anchor="end" fill="#262626">300</text><text transform="translate(371.00,384.60) scale(0.875,1)" font-size="8.6" text-anchor="end" fill="#262626">400</text><text transform="translate(530.45,530.70) scale(0.885,1)" font-size="8.8" text-anchor="middle" fill="#262626">Natural Moisture content</text><text transform="translate(530.45,369.00) scale(0.878,1)" font-size="10.6" text-anchor="middle" fill="#262626">Natural Moisture content | Skewness: 0.03</text><text transform="translate(354.30,441.65) rotate(-90) scale(1.18,1)" font-size="7.5" text-anchor="middle" fill="#262626">Count</text></g>
<g><rect x="28.00" y="554.70" width="308.50" height="132.20" fill="#eaeaf2"/><line x1="54.75" y1="554.70" x2="54.75" y2="686.90" stroke="#fff" stroke-width="0.7" stroke-opacity="0.85"/><line x1="96.06" y1="554.70" x2="96.06" y2="686.90" stroke="#fff" stroke-width="0.7" stroke-opacity="0.85"/><line x1="137.36" y1="554.70" x2="137.36" y2="686.90" stroke="#fff" stroke-width="0.7" stroke-opacity="0.85"/><line x1="178.66" y1="554.70" x2="178.66" y2="686.90" stroke="#fff" stroke-width="0.7" stroke-opacity="0.85"/><line x1="219.97" y1="554.70" x2="219.97" y2="686.90" stroke="#fff" stroke-width="0.7" stroke-opacity="0.85"/><line x1="261.27" y1="554.70" x2="261.27" y2="686.90" stroke="#fff" stroke-width="0.7" stroke-opacity="0.85"/><line x1="302.57" y1="554.70" x2="302.57" y2="686.90" stroke="#fff" stroke-width="0.7" stroke-opacity="0.85"/><line x1="28.00" y1="655.40" x2="336.50" y2="655.40" stroke="#fff" stroke-width="0.7" stroke-opacity="0.85"/><line x1="28.00" y1="623.90" x2="336.50" y2="623.90" stroke="#fff" stroke-width="0.7" stroke-opacity="0.85"/><line x1="28.00" y1="592.40" x2="336.50" y2="592.40" stroke="#fff" stroke-width="0.7" stroke-opacity="0.85"/><line x1="28.00" y1="560.90" x2="336.50" y2="560.90" stroke="#fff" stroke-width="0.7" stroke-opacity="0.85"/><rect x="41.90" y="679.21" width="10.80" height="7.69" fill="#1f77b4" fill-opacity="0.5" stroke="#fff" stroke-width="0.8"/><rect x="52.70" y="670.39" width="10.80" height="16.51" fill="#1f77b4" fill-opacity="0.5" stroke="#fff" stroke-width="0.8"/><rect x="63.49" y="652.12" width="10.80" height="34.78" fill="#1f77b4" fill-opacity="0.5" stroke="#fff" stroke-width="0.8"/><rect x="74.29" y="626.29" width="10.80" height="60.61" fill="#1f77b4" fill-opacity="0.5" stroke="#fff" stroke-width="0.8"/><rect x="85.08" y="614.95" width="10.80" height="71.95" fill="#1f77b4" fill-opacity="0.5" stroke="#fff" stroke-width="0.8"/><rect x="95.88" y="588.49" width="10.80" height="98.41" fill="#1f77b4" fill-opacity="0.5" stroke="#fff" stroke-width="0.8"/><rect x="106.68" y="580.93" width="10.80" height="105.97" fill="#1f77b4" fill-opacity="0.5" stroke="#fff" stroke-width="0.8"/><rect x="117.47" y="560.77" width="10.80" height="126.13" fill="#1f77b4" fill-opacity="0.5" stroke="#fff" stroke-width="0.8"/><rect x="128.27" y="572.74" width="10.80" height="114.16" fill="#1f77b4" fill-opacity="0.5" stroke="#fff" stroke-width="0.8"/><rect x="139.07" y="568.33" width="10.80" height="118.57" fill="#1f77b4" fill-opacity="0.5" stroke="#fff" stroke-width="0.8"/><rect x="149.86" y="572.11" width="10.80" height="114.79" fill="#1f77b4" fill-opacity="0.5" stroke="#fff" stroke-width="0.8"/><rect x="160.66" y="594.79" width="10.80" height="92.11" fill="#1f77b4" fill-opacity="0.5" stroke="#fff" stroke-width="0.8"/><rect x="171.45" y="602.98" width="10.80" height="83.92" fill="#1f77b4" fill-opacity="0.5" stroke="#fff" stroke-width="0.8"/><rect x="182.25" y="609.91" width="10.80" height="76.99" fill="#1f77b4" fill-opacity="0.5" stroke="#fff" stroke-width="0.8"/><rect x="193.05" y="624.40" width="10.80" height="62.50" fill="#1f77b4" fill-opacity="0.5" stroke="#fff" stroke-width="0.8"/><rect x="203.84" y="628.81" width="10.80" height="58.09" fill="#1f77b4" fill-opacity="0.5" stroke="#fff" stroke-width="0.8"/><rect x="214.64" y="649.60" width="10.80" height="37.30" fill="#1f77b4" fill-opacity="0.5" stroke="#fff" stroke-width="0.8"/><rect x="225.43" y="653.38" width="10.80" height="33.52" fill="#1f77b4" fill-opacity="0.5" stroke="#fff" stroke-width="0.8"/><rect x="236.23" y="657.79" width="10.80" height="29.11" fill="#1f77b4" fill-opacity="0.5" stroke="#fff" stroke-width="0.8"/><rect x="247.03" y="662.83" width="10.80" height="24.07" fill="#1f77b4" fill-opacity="0.5" stroke="#fff" stroke-width="0.8"/><rect x="257.82" y="669.13" width="10.80" height="17.77" fill="#1f77b4" fill-opacity="0.5" stroke="#fff" stroke-width="0.8"/><rect x="268.62" y="672.91" width="10.80" height="13.99" fill="#1f77b4" fill-opacity="0.5" stroke="#fff" stroke-width="0.8"/><rect x="279.42" y="678.58" width="10.80" height="8.32" fill="#1f77b4" fill-opacity="0.5" stroke="#fff" stroke-width="0.8"/><rect x="290.21" y="681.73" width="10.80" height="5.17" fill="#1f77b4" fill-opacity="0.5" stroke="#fff" stroke-width="0.8"/><rect x="301.01" y="684.25" width="10.80" height="2.65" fill="#1f77b4" fill-opacity="0.5" stroke="#fff" stroke-width="0.8"/><rect x="311.80" y="685.51" width="10.80" height="1.39" fill="#1f77b4" fill-opacity="0.5" stroke="#fff" stroke-width="0.8"/><path d="M41.90,681.05 L43.31,680.17 L44.72,679.22 L46.13,678.19 L47.54,677.07 L48.95,675.87 L50.36,674.58 L51.77,673.20 L53.18,671.72 L54.59,670.15 L56.01,668.49 L57.42,666.72 L58.83,664.86 L60.24,662.90 L61.65,660.85 L63.06,658.70 L64.47,656.48 L65.88,654.17 L67.29,651.80 L68.70,649.37 L70.11,646.90 L71.52,644.38 L72.93,641.85 L74.34,639.29 L75.75,636.74 L77.16,634.18 L78.57,631.63 L79.98,629.09 L81.40,626.57 L82.81,624.07 L84.22,621.58 L85.63,619.11 L87.04,616.65 L88.45,614.21 L89.86,611.78 L91.27,609.36 L92.68,606.97 L94.09,604.60 L95.50,602.25 L96.91,599.94 L98.32,597.66 L99.73,595.43 L101.14,593.25 L102.55,591.12 L103.96,589.06 L105.37,587.06 L106.79,585.14 L108.20,583.29 L109.61,581.52 L111.02,579.83 L112.43,578.24 L113.84,576.75 L115.25,575.37 L116.66,574.10 L118.07,572.95 L119.48,571.93 L120.89,571.04 L122.30,570.28 L123.71,569.65 L125.12,569.15 L126.53,568.76 L127.94,568.49 L129.35,568.32 L130.76,568.23 L132.18,568.22 L133.59,568.28 L135.00,568.40 L136.41,568.58 L137.82,568.80 L139.23,569.08 L140.64,569.40 L142.05,569.79 L143.46,570.25 L144.87,570.78 L146.28,571.40 L147.69,572.11 L149.10,572.92 L150.51,573.84 L151.92,574.86 L153.33,576.00 L154.74,577.24 L156.15,578.58 L157.57,580.00 L158.98,581.50 L160.39,583.05 L161.80,584.65 L163.21,586.28 L164.62,587.92 L166.03,589.55 L167.44,591.17 L168.85,592.77 L170.26,594.33 L171.67,595.85 L173.08,597.33 L174.49,598.77 L175.90,600.18 L177.31,601.55 L178.72,602.90 L180.13,604.22 L181.54,605.53 L182.96,606.84 L184.37,608.14 L185.78,609.45 L187.19,610.75 L188.60,612.07 L190.01,613.39 L191.42,614.73 L192.83,616.07 L194.24,617.42 L195.65,618.78 L197.06,620.15 L198.47,621.53 L199.88,622.92 L201.29,624.33 L202.70,625.75 L204.11,627.19 L205.52,628.65 L206.93,630.12 L208.35,631.62 L209.76,633.12 L211.17,634.63 L212.58,636.14 L213.99,637.64 L215.40,639.13 L216.81,640.58 L218.22,642.00 L219.63,643.38 L221.04,644.70 L222.45,645.95 L223.86,647.15 L225.27,648.28 L226.68,649.34 L228.09,650.33 L229.50,651.27 L230.91,652.15 L232.32,652.98 L233.74,653.77 L235.15,654.53 L236.56,655.26 L237.97,655.96 L239.38,656.65 L240.79,657.33 L242.20,658.01 L243.61,658.68 L245.02,659.35 L246.43,660.03 L247.84,660.71 L249.25,661.39 L250.66,662.07 L252.07,662.76 L253.48,663.45 L254.89,664.14 L256.30,664.84 L257.71,665.53 L259.13,666.21 L260.54,666.90 L261.95,667.57 L263.36,668.25 L264.77,668.91 L266.18,669.57 L267.59,670.22 L269.00,670.87 L270.41,671.51 L271.82,672.14 L273.23,672.77 L274.64,673.39 L276.05,674.00 L277.46,674.60 L278.87,675.20 L280.28,675.78 L281.69,676.35 L283.10,676.91 L284.52,677.46 L285.93,677.99 L287.34,678.50 L288.75,679.00 L290.16,679.47 L291.57,679.93 L292.98,680.37 L294.39,680.79 L295.80,681.20 L297.21,681.58 L298.62,681.95 L300.03,682.29 L301.44,682.62 L302.85,682.94 L304.26,683.23 L305.67,683.52 L307.08,683.79 L308.49,684.04 L309.91,684.28 L311.32,684.51 L312.73,684.72 L314.14,684.93 L315.55,685.12 L316.96,685.30 L318.37,685.47 L319.78,685.63 L321.19,685.78 L322.60,685.92" fill="none" stroke="#1f77b4" stroke-width="1.2" stroke-linejoin="round" stroke-linecap="round"/><text transform="translate(54.75,699.30) scale(0.875,1)" font-size="8.6" text-anchor="middle" fill="#262626">0.50</text><text transform="translate(96.06,699.30) scale(0.875,1)" font-size="8.6" text-anchor="middle" fill="#262626">0.75</text><text transform="translate(137.36,699.30) scale(0.875,1)" font-size="8.6" text-anchor="middle" fill="#262626">1.00</text><text transform="translate(178.66,699.30) scale(0.875,1)" font-size="8.6" text-anchor="middle" fill="#262626">1.25</text><text transform="translate(219.97,699.30) scale(0.875,1)" font-size="8.6" text-anchor="middle" fill="#262626">1.50</text><text transform="translate(261.27,699.30) scale(0.875,1)" font-size="8.6" text-anchor="middle" fill="#262626">1.75</text><text transform="translate(302.57,699.30) scale(0.875,1)" font-size="8.6" text-anchor="middle" fill="#262626">2.00</text><text transform="translate(22.20,690.00) scale(0.875,1)" font-size="8.6" text-anchor="end" fill="#262626">0</text><text transform="translate(22.20,658.50) scale(0.875,1)" font-size="8.6" text-anchor="end" fill="#262626">50</text><text transform="translate(22.20,627.00) scale(0.875,1)" font-size="8.6" text-anchor="end" fill="#262626">100</text><text transform="translate(22.20,595.50) scale(0.875,1)" font-size="8.6" text-anchor="end" fill="#262626">150</text><text transform="translate(22.20,564.00) scale(0.875,1)" font-size="8.6" text-anchor="end" fill="#262626">200</text><text transform="translate(182.25,710.90) scale(0.71,1)" font-size="8.8" text-anchor="middle" fill="#262626">FOS</text><text transform="translate(182.25,549.50) scale(0.835,1)" font-size="10.6" text-anchor="middle" fill="#262626">FOS | Skewness: 0.51</text><text transform="translate(4.90,622.00) rotate(-90) scale(1.18,1)" font-size="7.5" text-anchor="middle" fill="#262626">Count</text></g>
</g>
</svg></body></html>
